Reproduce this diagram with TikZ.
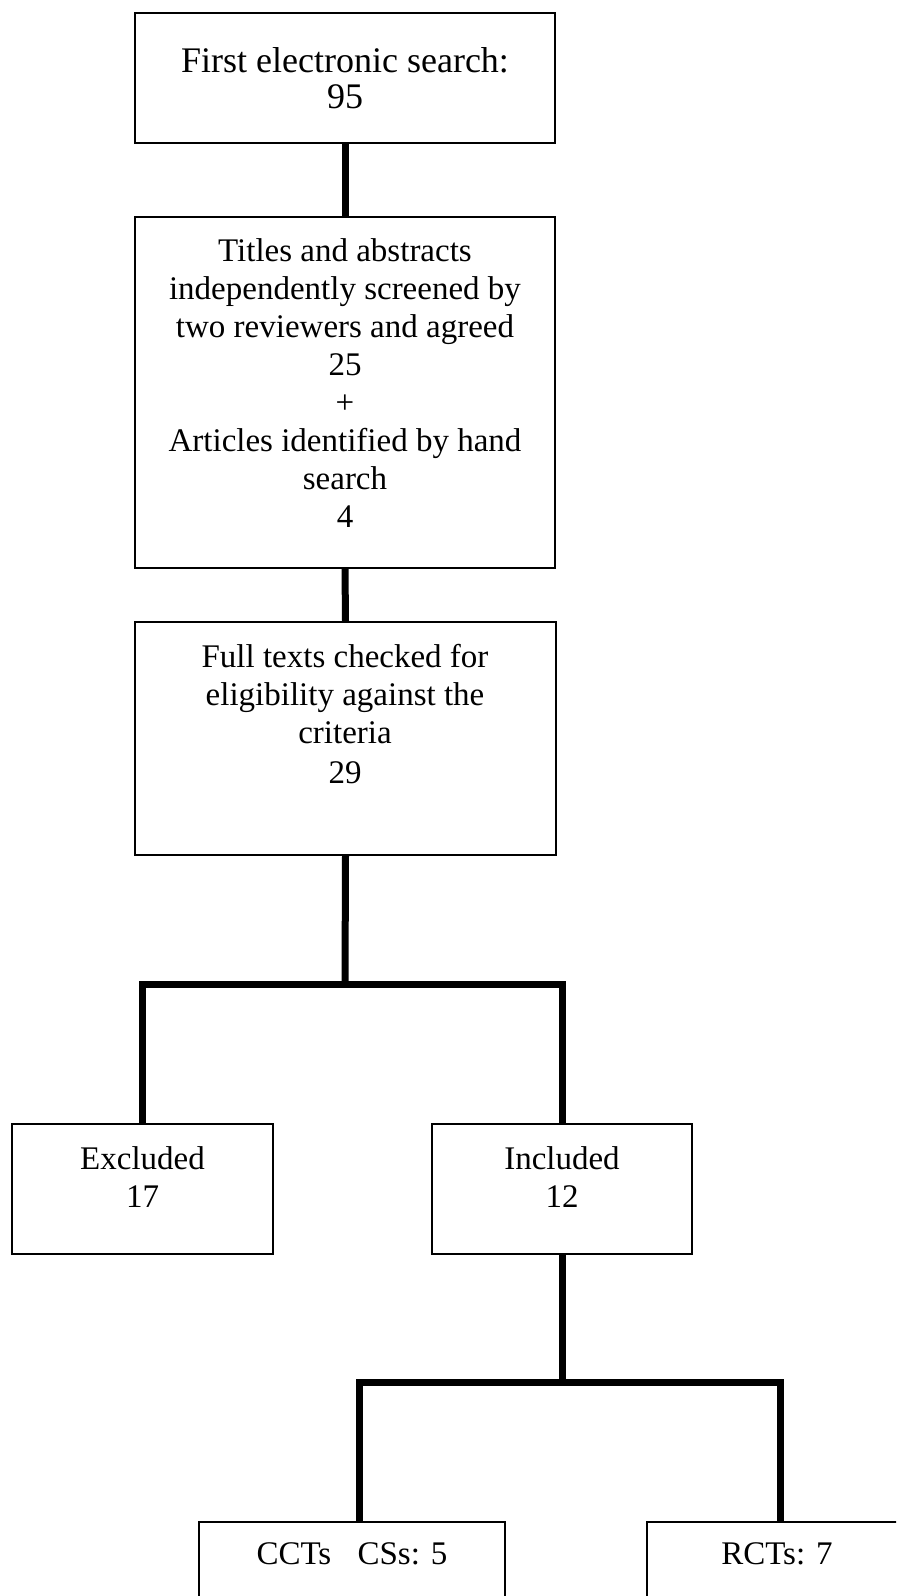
\documentclass[tikz,border=0pt]{standalone}
\usepackage{fontspec}
\setmainfont{Liberation Serif}
\begin{document}
\begin{tikzpicture}[x=0.5pt,y=-0.5pt,
  box/.style={draw,line width=1pt,inner sep=0pt,rectangle},
  conn/.style={line width=3.5pt,line join=miter},
  txt/.style={anchor=north,inner sep=0pt,align=center,font=\fontsize{16.5pt}{19pt}\selectfont}]
\useasboundingbox (0,0) rectangle (896,1596);
\clip (0,0) rectangle (896,1596);
% boxes
\node[box,minimum width=210pt,minimum height=65pt] (b1) at (345,78) {};
\node[box,minimum width=210pt,minimum height=175.5pt] (b2) at (345,392.5) {};
\node[box,minimum width=210.5pt,minimum height=116.5pt] (b3) at (345.5,738.5) {};
\node[box,minimum width=130.5pt,minimum height=65pt] (exc) at (142.5,1189) {};
\node[box,minimum width=130pt,minimum height=65pt] (inc) at (562,1189) {};
\node[box,minimum width=153pt,minimum height=65pt] (cct) at (352,1587) {};
\node[box,minimum width=130pt,minimum height=65pt] (rct) at (777,1587) {};
% connectors
\draw[conn] (b1.south) -- (b2.north);
\draw[conn] (b2.south) -- (b3.north);
\coordinate (j1) at (345,984.5);
\draw[conn] (b3.south) -- (j1);
\draw[conn] (exc.north) -- (exc.north |- j1) -- (inc.north |- j1) -- (inc.north);
\coordinate (j2) at (562,1382);
\coordinate (j2l) at (359,1382);
\coordinate (j2r) at (780,1382);
\draw[conn] (inc.south) -- (j2);
\draw[conn] (j2l |- cct.north) -- (j2l) -- (j2r) -- (j2r |- rct.north);
% texts
\node[txt,font=\fontsize{18pt}{18pt}\selectfont] (t1) at (345,47.5) {First electronic search:\\95};
\node[txt] (t2) at (345,237.7) {Titles and abstracts\\independently screened by\\two reviewers and agreed\\25\\+\\Articles identified by hand\\search\\4};
\node[txt] (t3) at (345,643.5) {Full texts checked for\\eligibility against the\\criteria\\[1pt]29};
\node[txt] (t4) at (142.5,1146.5) {Excluded\\17};
\node[txt] (t5) at (562,1146.5) {Included\\12};
\node[txt] (t6) at (352,1542.5) {CCTs\hspace{0.8em}CSs: 5};
\node[txt] (t7) at (777,1542.5) {RCTs: 7};
\end{tikzpicture}
\end{document}
